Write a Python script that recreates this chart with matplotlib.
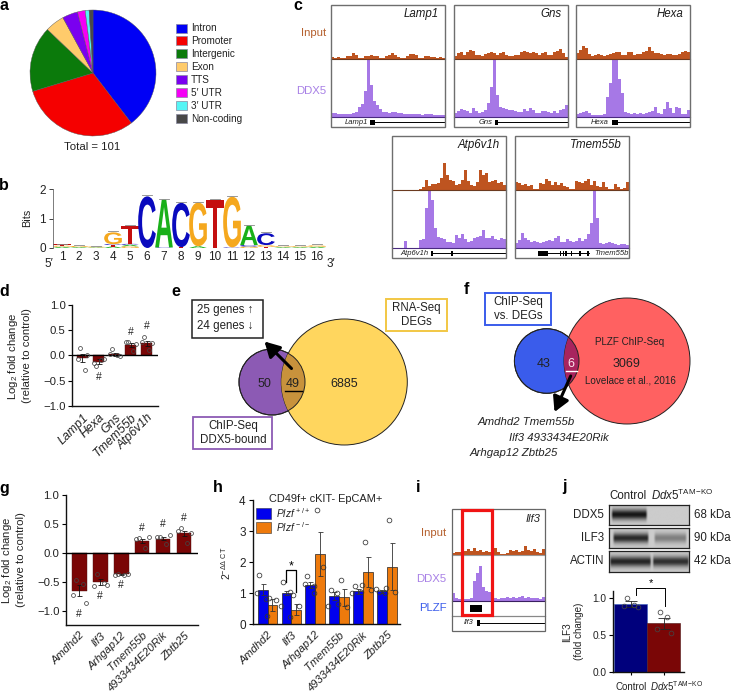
import numpy as np
import matplotlib
matplotlib.use("Agg")
import matplotlib.pyplot as plt
from matplotlib.patches import Circle, Rectangle, PathPatch, FancyArrowPatch
from matplotlib.textpath import TextPath
from matplotlib.font_manager import FontProperties
from matplotlib.transforms import Affine2D

plt.rcParams['font.family'] = ['Liberation Sans', 'DejaVu Sans']
plt.rcParams['mathtext.fontset'] = 'custom'
plt.rcParams['mathtext.rm'] = 'Liberation Sans'
plt.rcParams['mathtext.it'] = 'Liberation Sans:italic'
plt.rcParams['mathtext.default'] = 'regular'

W, H = 731, 696
TXT = '#222222'

# ---------- data ----------
pie_labels = ['Intron', 'Promoter', 'Intergenic', 'Exon', 'TTS', "5\u2032 UTR", "3\u2032 UTR", 'Non-coding']
pie_values = [40, 31, 17, 5, 4, 2, 1, 1]
pie_colors = ['#0000F5', '#F50000', '#0B7A0B', '#FFCB6B', '#7A00F0', '#F500F5', '#55F5F5', '#484848']

logo_stacks = [
    [('A', .04), ('G', .04), ('T', .04)], [('A', .03), ('G', .04)], [('A', .02), ('G', .03)],
    [('A', .05), ('T', .05), ('C', .03), ('G', .40)], [('G', .06), ('A', .05), ('C', .03), ('T', .62)],
    [('C', 1.75)], [('C', .02), ('A', 1.62)], [('T', .03), ('C', 1.50)], [('A', .06), ('G', 1.48)],
    [('T', 1.62)], [('C', .02), ('G', 1.72)], [('G', .05), ('C', .05), ('A', .66)],
    [('T', .04), ('G', .06), ('C', .40)], [('A', .03), ('G', .03)], [('A', .03), ('G', .03)], [('A', .04), ('G', .05)],
]
logo_colors = {'A': '#19B019', 'C': '#0A0ABE', 'G': '#F5A81E', 'T': '#C40F0F'}

d_genes = ['Lamp1', 'Hexa', 'Gns', 'Tmem55b', 'Atp6v1h']
d_vals = [-0.05, -0.13, 0.02, 0.21, 0.24]
d_errs = [0.08, 0.05, 0.03, 0.04, 0.05]
d_pts = [[0.15, -0.28, -0.08, 0.0], [-0.22, -0.10, -0.15, -0.08], [0.13, 0.0, 0.03, -0.02],
         [0.26, 0.08, 0.27, 0.22], [0.37, 0.10, 0.27, 0.25]]

g_genes = ['Amdhd2', 'Ilf3', 'Arhgap12', 'Tmem55b', '4933434E20Rik', 'Zbtb25']
g_vals = [-0.65, -0.50, -0.37, 0.21, 0.25, 0.34]
g_errs = [0.09, 0.05, 0.01, 0.04, 0.03, 0.05]
g_pts = [[-0.46, -0.54, -0.72, -0.87], [-0.36, -0.52, -0.57, -0.55], [-0.37, -0.38, -0.38, -0.37],
         [0.26, 0.08, 0.25, 0.27], [0.28, 0.15, 0.27, 0.31], [0.43, 0.18, 0.38, 0.35]]

h_genes = g_genes
h_blue = [1.12, 1.00, 1.28, 0.92, 1.06, 1.06]
h_blue_err = [0.17, 0.07, 0.10, 0.12, 0.07, 0.05]
h_orange = [0.62, 0.47, 2.27, 0.87, 1.69, 1.86]
h_orange_err = [0.20, 0.17, 0.72, 0.27, 0.48, 0.75]
h_blue_pts = [[1.60, 0.82, 1.02], [1.37, 1.05, 0.60], [1.55, 1.00, 1.30], [1.10, 1.00, 0.60], [1.25, 1.05, 1.00], [1.05, 1.00, 1.15]]
h_orange_pts = [[0.85, 0.80, 0.27], [0.95, 0.58, 0.25], [3.70, 1.85, 1.25], [1.42, 0.55, 0.65], [2.65, 1.12, 1.28], [3.35, 1.05, 1.17]]

j_vals = [0.92, 0.66]
j_errs = [0.04, 0.07]
j_pts = [[1.0, 0.91, 0.90, 0.88], [0.81, 0.75, 0.58, 0.53]]

lamp1_in = [2,1,2,1,1,3,3,6,4,1,1,3,3,4,3,3,1,1,3,4,6,4,2,1,1,3,5,5,4,1,1,3,3,2,2,1,2,1]
lamp1_dx = [4,4,3,3,3,3,3,4,5,10,13,26,57,32,16,12,8,5,5,4,5,5,4,4,3,3,3,3,3,3,2,3,3,3,2,2,2,2]
gns_in = [3,6,7,4,7,9,8,4,4,3,5,6,7,6,4,6,7,4,3,3,4,4,7,8,7,6,7,6,4,6,7,4,4,7,8,10,6,2]
gns_dx = [4,6,8,7,6,4,9,6,4,5,7,14,30,57,22,10,9,8,7,7,6,5,5,8,6,9,7,4,4,6,6,5,4,6,4,7,8,12]
hexa_in = [6,9,13,11,5,3,4,5,4,3,4,5,6,7,7,4,4,7,7,4,5,5,7,8,12,8,6,6,5,4,5,5,4,4,5,7,8,7]
hexa_dx = [3,4,5,6,4,2,2,2,2,3,20,34,57,57,38,24,5,4,3,4,3,4,3,4,5,6,10,4,3,8,15,9,4,10,9,3,3,7]
atp_in = [0,0,0,0,0,0,0,0,0,1,3,10,4,6,6,7,12,27,15,10,9,5,6,10,20,9,5,4,8,20,15,17,8,9,10,7,8,5]
atp_dx = [0,0,0,0,7,0,0,0,0,8,9,40,57,48,20,11,10,9,6,6,5,13,10,14,9,6,7,10,11,12,18,10,10,12,9,8,10,9]
tmem_in = [8,7,5,6,4,5,1,1,7,6,11,9,5,8,5,7,4,3,1,1,9,8,7,9,11,5,9,4,3,8,3,1,1,6,3,1,2,8]
tmem_dx = [5,8,15,10,8,6,7,6,5,6,7,8,7,10,12,6,6,9,7,6,7,10,7,9,14,25,57,30,5,4,5,6,5,4,3,4,4,3]
ilf3_in = [2,3,3,5,4,6,4,7,4,5,3,4,3,3,7,3,1,1,2,5,4,5,3,4,9,5,4,6,3,2,6]
ilf3_dx = [8,3,2,2,2,2,3,20,28,35,14,10,9,6,3,2,3,3,4,3,4,3,4,5,3,4,3,3,3,2,4]

blot_rows = ['DDX5', 'ILF3', 'ACTIN']
blot_sizes = ['68 kDa', '90 kDa', '42 kDa']
blot_bands = [[(0.02, 0.48, 0.95)], [(0.04, 0.50, 0.85), (0.55, 0.97, 0.40)], [(0.0, 0.53, 0.88), (0.53, 1.0, 0.82)]]

# ---------- helpers ----------
fig = plt.figure(figsize=(W / 100, H / 100), dpi=100, facecolor='white')


def axpx(x0, y0, x1, y1, **kw):
    return fig.add_axes([x0 / W, 1 - y1 / H, (x1 - x0) / W, (y1 - y0) / H], **kw)


ov = fig.add_axes([0, 0, 1, 1], zorder=20)
ov.set_xlim(0, W)
ov.set_ylim(H, 0)
ov.axis('off')
ov.patch.set_alpha(0)


def T(x, y, s, size=8.2, ha='center', va='center', color=TXT, **kw):
    return ov.text(x, y, s, fontsize=size, ha=ha, va=va, color=color, **kw)


def box(x0, y0, x1, y1, ec, lw=1.2, fc='none', z=3):
    ov.add_patch(Rectangle((x0, y0), x1 - x0, y1 - y0, fc=fc, ec=ec, lw=lw, zorder=z))


for lab, x, y in [('a', 4, 6), ('b', 4, 185), ('c', 298, 6), ('d', 4, 291), ('e', 176, 291), ('f', 466, 290),
                  ('g', 4, 488), ('h', 218, 487), ('i', 418, 487), ('j', 564, 487)]:
    T(x, y, lab, size=11.5, color='black', fontweight='bold')

# ---------- a ----------
axa = axpx(93 - 64, 73 - 64, 93 + 64, 73 + 64)
axa.pie(pie_values, colors=pie_colors, startangle=90, counterclock=False, radius=63 / 64,
        wedgeprops=dict(edgecolor='#555555', linewidth=0.3))
axa.set_xlim(-1, 1)
axa.set_ylim(-1, 1)
for i, (lb, c) in enumerate(zip(pie_labels, pie_colors)):
    yy = 28 + i * 12.95
    ov.add_patch(Rectangle((175.5, yy - 4.5), 11, 9, fc=c, ec='#8888a0', lw=0.5))
    T(191, yy, lb, size=7.2, ha='left')
T(92, 147, 'Total = 101', size=8.2)

# ---------- b ----------
axb = axpx(53, 189, 327, 248)
axb.set_xlim(1 - 9 / 17, 16 + 10 / 17)
axb.set_ylim(0, 2)
axb.patch.set_alpha(0)
fp = FontProperties(family='Liberation Sans', weight='bold')
for pos, stack in enumerate(logo_stacks, start=1):
    base = 0
    for letter, h in stack:
        tp = TextPath((0, 0), letter, size=1, prop=fp)
        bb = tp.get_extents()
        tr = Affine2D().translate(-bb.x0, -bb.y0).scale(1.04 / bb.width, h / bb.height).translate(pos - 0.52, base)
        axb.add_patch(PathPatch(tp, fc=logo_colors[letter], ec='none', transform=tr + axb.transData))
        base += h
    axb.plot([pos - 0.3, pos + 0.3], [base + 0.03] * 2, color='#888888', lw=0.6)
for s in ['top', 'right', 'bottom']:
    axb.spines[s].set_visible(False)
axb.spines['left'].set_color('#666666')
axb.spines['left'].set_linewidth(0.6)
axb.set_yticks([0, 1, 2])
axb.set_xticks(range(1, 17))
axb.tick_params(axis='y', labelsize=8.5, length=3, width=0.6, pad=2, colors=TXT)
axb.tick_params(axis='x', labelsize=8.5, length=0, pad=2, colors=TXT)
T(27, 218, 'Bits', size=7.8, rotation=90)
T(49, 264, "5\u2032", size=8.5)
T(331, 264, "3\u2032", size=8.5)


# ---------- c ----------
def track(x0, x1, ytop, ybase, vals, color, basecolor):
    ax = axpx(x0, ytop, x1, ybase)
    edges = np.arange(len(vals) + 1)
    ax.fill_between(edges, np.r_[vals, vals[-1]], 0, step='post', color=color, lw=0)
    ax.set_xlim(0, len(vals))
    ax.set_ylim(0, ybase - ytop)
    ax.axis('off')
    ax.patch.set_alpha(0)
    ov.plot([x0, x1], [ybase, ybase], color=basecolor, lw=0.8)


BROWN, PURP = '#BE5420', '#A678E6'
c_panels = [
    ('Lamp1', 331.3, 4.7, lamp1_in, lamp1_dx, 0.342, [(0.342, 0.383)], 1.0, 'left'),
    ('Gns', 454.3, 4.7, gns_in, gns_dx, 0.354, [(0.354, 0.383)], 1.0, 'left'),
    ('Hexa', 576.3, 4.7, hexa_in, hexa_dx, 0.31, [(0.31, 0.363)], 1.0, 'left'),
    ('Atp6v1h', 392.3, 135.7, atp_in, atp_dx, 0.339, [(0.339, 0.36), (0.512, 0.529)], 1.0, 'left'),
    ('Tmem55b', 514.7, 135.7, tmem_in, tmem_dx, 0.2,
     [(0.2, 0.295), (0.40, 0.41), (0.42, 0.43), (0.445, 0.455), (0.495, 0.505), (0.56, 0.585), (0.63, 0.65)], 0.655, 'right'),
]
for name, x0, y0, tin, tdx, lstart, exons, lend, side in c_panels:
    x1 = x0 + 114
    yb1, yb2, y1 = y0 + 54.3, y0 + 112.6, y0 + 122.3
    track(x0, x1, y0 + 1, yb1, tin, BROWN, '#6b3a20')
    track(x0, x1, yb1 + 0.5, yb2, tdx, PURP, '#4a2a80')
    box(x0, y0, x1, y1, '#6e6e6e', lw=1.0)
    T(x1 - 7, y0 + 9, name, size=8.3, ha='right', style='italic', color='#1a1a1a')
    yg = (yb2 + y1) / 2 + 0.3
    ov.plot([x0 + lstart * 114, x0 + lend * 114], [yg, yg], color='black', lw=0.7)
    for a, b in exons:
        ov.add_patch(Rectangle((x0 + a * 114, yg - 2.2), (b - a) * 114, 4.4, fc='black', ec='none'))
    if side == 'left':
        T(x0 + lstart * 114 - 2.5, yg, name, size=5.5, ha='right', style='italic')
    else:
        T(x1 - 0.5, yg, name, size=5.5, ha='right', style='italic')
T(326, 33, 'Input', size=8.2, ha='right', color='#B5602E')
T(326, 91, 'DDX5', size=8.2, ha='right', color='#A880E6')


# ---------- bar helper ----------
RED = '#7A0606'
JIT = [-0.12, 0.12, -0.22, 0.24]


def pts(ax, xc, vals, spread=1.0, ms=2.8, color='#444444'):
    for k, v in enumerate(vals):
        ax.plot(xc + JIT[k % 4] * spread, v, 'o', mfc='none', mec=color, ms=ms, mew=0.55, zorder=6, clip_on=False)


def style_bar_axis(ax):
    for s in ['top', 'right']:
        ax.spines[s].set_visible(False)
    for s in ['left', 'bottom']:
        ax.spines[s].set_linewidth(1.0)
        ax.spines[s].set_color('#111111')
    ax.patch.set_alpha(0)


def hbar_panel(box_px, ylim, genes, vals, errs, points, marks_pos, yticks, xsize):
    ax = axpx(*box_px)
    xs = np.arange(len(genes))
    ax.bar(xs, vals, width=0.70, color=RED, edgecolor='#4a1010', linewidth=0.3, zorder=2)
    ax.errorbar(xs, vals, yerr=errs, fmt='none', ecolor='#111111', elinewidth=0.6, capsize=1.8, capthick=0.6, zorder=5)
    for x, p in zip(xs, points):
        pts(ax, x, p, spread=1.3)
    ax.axhline(0, color='black', lw=1.0, zorder=4)
    ax.set_ylim(*ylim)
    ax.set_xticks(xs)
    ax.set_xticklabels(genes, rotation=45, ha='right', rotation_mode='anchor', style='italic', fontsize=xsize, color=TXT)
    ax.set_yticks(yticks)
    ax.set_yticklabels([f'{t:.1f}'.replace('-', '\u2212') for t in yticks], fontsize=8.2, color=TXT)
    ax.tick_params(axis='x', length=0, pad=4)
    ax.tick_params(axis='y', length=3, width=0.8, pad=1.5)
    style_bar_axis(ax)
    for x, y in marks_pos:
        ax.text(x, y, '#', fontsize=7.5, ha='center', va='center', color=TXT)
    return ax


# ---------- d ----------
axd = hbar_panel((72, 304.7, 158, 406), (-1, 1), d_genes, d_vals, d_errs, d_pts,
                 [(1, -0.43), (3, 0.46), (4, 0.57)], [-1, -0.5, 0, 0.5, 1], 8.8)
axd.set_xlim(-0.65, 4.7)
T(13, 356, 'Log$_2$ fold change', size=8.2, rotation=90)
T(27, 356, '(relative to control)', size=8.2, rotation=90)

# ---------- g ----------
axg = hbar_panel((65.7, 495.3, 198, 624.7), (-1.24, 1.0), g_genes, g_vals, g_errs, g_pts,
                 [(0, -1.05), (1, -0.75), (2, -0.55), (3, 0.44), (4, 0.50), (5, 0.60)], [-1, -0.5, 0, 0.5, 1], 8.0)
axg.set_xlim(-0.65, 5.67)
T(7, 560, 'Log$_2$ fold change', size=8.2, rotation=90)
T(21, 560, '(relative to control)', size=8.2, rotation=90)


# ---------- e / f venn ----------
def venn(c1, r1, col1, c2, r2, col2, colx):
    a = Circle(c1, r1, fc=col1, ec='#222222', lw=0.7, zorder=1)
    b = Circle(c2, r2, fc=col2, ec='#222222', lw=0.7, zorder=1)
    ov.add_patch(a)
    ov.add_patch(b)
    x = Circle(c2, r2, fc=colx, ec='none', zorder=2)
    ov.add_patch(x)
    clip = Circle(c1, r1, transform=ov.transData)
    x.set_clip_path(clip)
    ov.add_patch(Circle(c1, r1, fc='none', ec='#222222', lw=0.7, zorder=2))


ARROW = '-|>,head_length=9,head_width=5'
venn((272, 382), 33, '#8C5AB4', (344.3, 382), 63, '#FFD65E', '#C8923C')
T(264, 383.7, '50', size=9)
T(292.7, 383.7, '49', size=9)
ov.plot([284.5, 302], [390.5, 390.5], color='black', lw=1.0, zorder=4)
T(343.7, 383.7, '6885', size=9)
box(192.3, 299.7, 262.7, 338, '#222222', lw=1.1)
T(197, 310, '25 genes \u2191', size=8.3, ha='left')
T(197, 326.5, '24 genes \u2193', size=8.3, ha='left')
box(386, 298.7, 446.7, 331.3, '#F2C744', lw=1.4)
T(416.5, 308, 'RNA-Seq', size=8.3)
T(416.5, 322, 'DEGs', size=8.3)
box(193, 416.7, 272.3, 449.3, '#8C5AB4', lw=1.3)
T(233, 426, 'ChIP-Seq', size=8.3)
T(233, 440, 'DDX5-bound', size=8.3)
ov.add_patch(FancyArrowPatch((291.5, 368.5), (264.5, 341.5), arrowstyle=ARROW, lw=2.2,
                             color='black', zorder=6, shrinkA=0, shrinkB=0))

venn((546.7, 361), 32.3, '#3A5CEB', (627, 361), 63, '#FF6161', '#A8245E')
T(543.3, 363.7, '43', size=9)
T(571.3, 363.7, '6', size=9, color='#FBE4EE')
ov.plot([565.5, 577], [370.5, 370.5], color='white', lw=1.0, zorder=4)
T(626.7, 363.7, '3069', size=9)
T(630, 342.3, 'PLZF ChIP-Seq', size=7.1)
T(630, 380.3, 'Lovelace et al., 2016', size=7.1)
box(484.7, 293, 551, 325.3, '#3A5CEB', lw=1.4)
T(518, 302, 'ChIP-Seq', size=8.3)
T(518, 316, 'vs. DEGs', size=8.3)
ov.add_patch(FancyArrowPatch((570.7, 376), (554.5, 412), arrowstyle=ARROW, lw=2.2,
                             color='black', zorder=6, shrinkA=0, shrinkB=0))
T(526, 421.7, 'Amdhd2 Tmem55b', size=8.2, style='italic')
T(559.3, 437.7, 'Ilf3 4933434E20Rik', size=8.2, style='italic')
T(513.3, 453.3, 'Arhgap12 Zbtb25', size=8.2, style='italic')

# ---------- h ----------
axh = axpx(252.7, 500.3, 400, 624.3)
xh = np.arange(6)
bw = 0.41
BLUE2, ORANGE = '#0000EE', '#EE7A0C'
axh.bar(xh - bw / 2, h_blue, bw, color=BLUE2, edgecolor='#222222', lw=0.5, zorder=2)
axh.bar(xh + bw / 2, h_orange, bw, color=ORANGE, edgecolor='#222222', lw=0.5, zorder=2)
axh.errorbar(xh - bw / 2, h_blue, yerr=h_blue_err, fmt='none', ecolor='#333333', elinewidth=0.6, capsize=1.8, capthick=0.6, zorder=3)
axh.errorbar(xh + bw / 2, h_orange, yerr=h_orange_err, fmt='none', ecolor='#333333', elinewidth=0.6, capsize=1.8, capthick=0.6, zorder=3)
for i in xh:
    pts(axh, i - bw / 2, h_blue_pts[i], spread=1.1, ms=3.4, color='#333333')
    pts(axh, i + bw / 2, h_orange_pts[i], spread=1.1, ms=3.4, color='#333333')
axh.set_xlim(-0.62, 5.55)
axh.set_ylim(0, 4)
axh.set_yticks(range(5))
axh.set_xticks(xh)
axh.set_xticklabels(h_genes, rotation=45, ha='right', rotation_mode='anchor', style='italic', fontsize=8.0, color=TXT)
axh.tick_params(axis='x', length=0, pad=4)
axh.tick_params(axis='y', length=3, width=0.8, pad=2, labelsize=8.5, labelcolor=TXT)
style_bar_axis(axh)
T(226, 563, '2$^{-\u0394\u0394\\ CT}$', size=7.5, rotation=90)
T(326, 499.5, 'CD49f+ cKIT- EpCAM+', size=7.9)
ov.add_patch(Rectangle((256, 507.5), 15, 11, fc=BLUE2, ec='#333344', lw=0.4))
ov.add_patch(Rectangle((256, 522), 15, 11, fc=ORANGE, ec='#333333', lw=0.4))
T(276, 513, '$\\mathit{Plzf}^{\\,+/+}$', size=7.3, ha='left')
T(276, 527.5, '$\\mathit{Plzf}^{\\,-/-}$', size=7.3, ha='left')
ov.plot([286, 286, 296, 296], [582, 570, 570, 592], color='black', lw=0.9)
T(291, 566, '*', size=9, color='black')

# ---------- i ----------
track(452, 545.3, 510, 554.7, ilf3_in, BROWN, '#9a9a9a')
track(452, 545.3, 555.5, 601, ilf3_dx, PURP, '#3a2060')
box(452, 509, 545.3, 631, '#666666', lw=0.9)
ov.plot([452, 545.3], [615.7, 615.7], color='#888888', lw=0.9)
ov.add_patch(Rectangle((470, 605.3), 12.3, 6.7, fc='black', ec='none'))
box(462, 510, 492.3, 615.3, '#F01414', lw=2.3, z=8)
ov.plot([479, 545.3], [622.7, 622.7], color='black', lw=0.7)
ov.add_patch(Rectangle((477, 619.7), 2.5, 6, fc='black', ec='none'))
T(473, 622.8, 'Ilf3', size=5.3, ha='right', style='italic')
T(541, 519.3, 'Ilf3', size=8, ha='right', style='italic')
T(446.7, 533, 'Input', size=8.2, ha='right', color='#B5602E')
T(446.7, 579, 'DDX5', size=8.2, ha='right', color='#A880E6')
T(446.7, 608.3, 'PLZF', size=8.2, ha='right', color='#3A5CEB')

# ---------- j blots ----------
blot_y = [(504.7, 525.3), (528.3, 548.3), (551, 571.7)]
for name, size, bands, (y0, y1) in zip(blot_rows, blot_sizes, blot_bands, blot_y):
    axb2 = axpx(609, y0, 689.3, y1)
    xx = np.linspace(0, 1, 240)[None, :]
    yy = np.linspace(-1, 1, 60)[:, None]
    img = np.full((60, 240), 0.80)
    for a, b, dark in bands:
        prof = np.clip((xx - a) / 0.03, 0, 1) * np.clip((b - xx) / 0.03, 0, 1)
        img = img - dark * 0.75 * prof * np.exp(-(yy / 0.5) ** 2)
    axb2.imshow(np.clip(img, 0, 1), cmap='gray', vmin=0, vmax=1, aspect='auto', extent=(0, 1, 0, 1))
    axb2.set_xticks([])
    axb2.set_yticks([])
    for s in axb2.spines.values():
        s.set_linewidth(0.9)
        s.set_color('#222222')
    T(604, (y0 + y1) / 2, name, size=8.3, ha='right')
    T(694, (y0 + y1) / 2, size, size=8.3, ha='left')
T(628.3, 496, 'Control', size=8.3)
T(682, 495, '$\\mathit{Ddx5}^{TAM\\!-\\!KO}$', size=8.3)

# ---------- j bars ----------
axj = axpx(613.3, 590.7, 684, 672.3)
xj = np.arange(2)
axj.bar(xj, j_vals, width=1.0, color=['#00007C', RED], edgecolor=['#3a5fc0', '#4a1010'], lw=0.4, zorder=2)
axj.errorbar(xj, j_vals, yerr=j_errs, fmt='none', ecolor='#222222', elinewidth=0.6, capsize=4, capthick=0.6, zorder=3)
for i in xj:
    pts(axj, i, j_pts[i], spread=0.9, ms=3.4, color='#444444')
axj.set_xlim(-0.84 * 0.53 - 0.08, 1.62)
axj.set_ylim(0, 1.1)
axj.set_yticks([0, 0.5, 1.0])
axj.set_yticklabels(['0.0', '0.5', '1.0'], fontsize=7.3, color=TXT)
axj.set_xticks(xj)
axj.set_xticklabels([])
axj.tick_params(axis='x', length=2.5, width=0.8)
axj.tick_params(axis='y', length=3, width=0.8, pad=2)
style_bar_axis(axj)
T(631.5, 686.7, 'Control', size=7)
T(677, 686, '$\\mathit{Ddx5}^{TAM\\!-\\!KO}$', size=7)
T(567, 631.7, 'ILF3', size=7.1, rotation=90)
T(579.5, 631.7, '(fold change)', size=7.1, rotation=90)
ov.plot([635.7, 635.7, 664.7, 664.7], [595, 588, 588, 606], color='black', lw=0.7)
T(650.5, 583.5, '*', size=8, color='black')

fig.savefig('out.png', dpi=100, facecolor='white')
